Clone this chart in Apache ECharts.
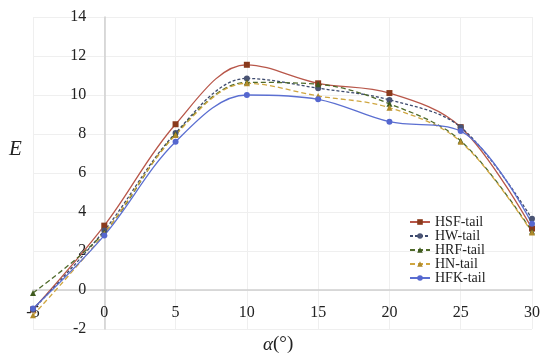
<!DOCTYPE html>
<html><head><meta charset="utf-8">
<script src="https://cdn.jsdelivr.net/npm/echarts@6/dist/echarts.min.js"></script>
<style>html,body{margin:0;padding:0;background:#fff}#c{width:550px;height:362px}</style>
</head><body><div id="c"></div>
<script>
var alpha = [-5, 0, 5, 10, 15, 20, 25, 30];
var hsf = [-1.0, 3.3, 8.5, 11.55, 10.6, 10.1, 8.35, 3.15];
var hw  = [-1.0, 3.05, 8.05, 10.85, 10.35, 9.75, 8.35, 3.65];
var hrf = [-0.15, 2.95, 8.0, 10.65, 10.55, 9.55, 7.65, 3.0];
var hn  = [-1.3, 2.9, 7.95, 10.6, 9.95, 9.35, 7.6, 2.95];
var hfk = [-0.95, 2.8, 7.6, 10.0, 9.78, 8.63, 8.15, 3.4];
var yTicks = [-2, 0, 2, 4, 6, 8, 10, 12, 14];

function pairs(v){ return alpha.map(function(a,i){ return [a, v[i]]; }); }
var font = '"Liberation Serif", "DejaVu Serif", serif';
function mk(name, data, color, mColor, symbol, type){
  return {
    name: name, type: 'line', data: pairs(data), smooth: 0.35,
    symbol: symbol, symbolSize: 6,
    lineStyle: {color: color, width: 1.3, type: type},
    itemStyle: {color: mColor},
    z: 3
  };
}
var W = 550, H = 362, gl = 33, gr = 18, gt = 17, gb = 33;
var xMin = -5, xMax = 30, yMin = yTicks[0], yMax = yTicks[yTicks.length-1];
// shift axes so they sit on the zero lines (as in the original)
var xOff = -((0 - yMin) / (yMax - yMin)) * (H - gt - gb);
var yOff = -((0 - xMin) / (xMax - xMin)) * (W - gl - gr);
var chart = echarts.init(document.getElementById('c'));
chart.setOption({
  animation: false,
  grid: {left: gl, right: gr, top: gt, bottom: gb, containLabel: false},
  xAxis: {
    type: 'value', min: xMin, max: xMax, interval: 5, offset: xOff,
    axisLine: {onZero: false, lineStyle: {color: '#cfcfcf', width: 1.5}},
    axisTick: {show: false},
    axisLabel: {margin: 15, color: '#222', fontSize: 16, fontFamily: font},
    splitLine: {lineStyle: {color: '#efefef'}}
  },
  yAxis: {
    type: 'value', min: yMin, max: yMax, interval: 2, offset: yOff,
    axisLine: {show: true, onZero: false, lineStyle: {color: '#cfcfcf', width: 1.5}},
    axisTick: {show: false},
    axisLabel: {margin: 18, color: '#222', fontSize: 16, fontFamily: font},
    splitLine: {lineStyle: {color: '#efefef'}}
  },
  legend: {
    orient: 'vertical', left: 404, top: 210, itemWidth: 20, itemHeight: 7, itemGap: 0,
    textStyle: {fontFamily: font, fontSize: 14, lineHeight: 13.8, color: '#222'},
    data: ['HSF-tail','HW-tail','HRF-tail','HN-tail','HFK-tail']
  },
  graphic: [
    {type: 'text', left: 9, top: 139, style: {text: 'E', font: 'italic 21px ' + font, fill: '#222'}},
    {type: 'text', left: 263, top: 335, style: {
      text: '{a|α}{b|(°)}',
      rich: {a: {fontFamily: font, fontStyle: 'italic', fontSize: 19, fill: '#222'},
             b: {fontFamily: font, fontSize: 19, fill: '#222'}}
    }}
  ],
  series: [
    mk('HSF-tail', hsf, '#b8574a', '#8a3a1c', 'rect', 'solid'),
    mk('HW-tail', hw, '#3d4a6e', '#4a5474', 'circle', [3, 2]),
    mk('HRF-tail', hrf, '#4f6a2a', '#3e5a1e', 'triangle', [5, 3]),
    mk('HN-tail', hn, '#cfa640', '#b08a2a', 'triangle', [5, 3]),
    mk('HFK-tail', hfk, '#5b6fd1', '#5567cf', 'circle', 'solid')
  ]
});
</script></body></html>
